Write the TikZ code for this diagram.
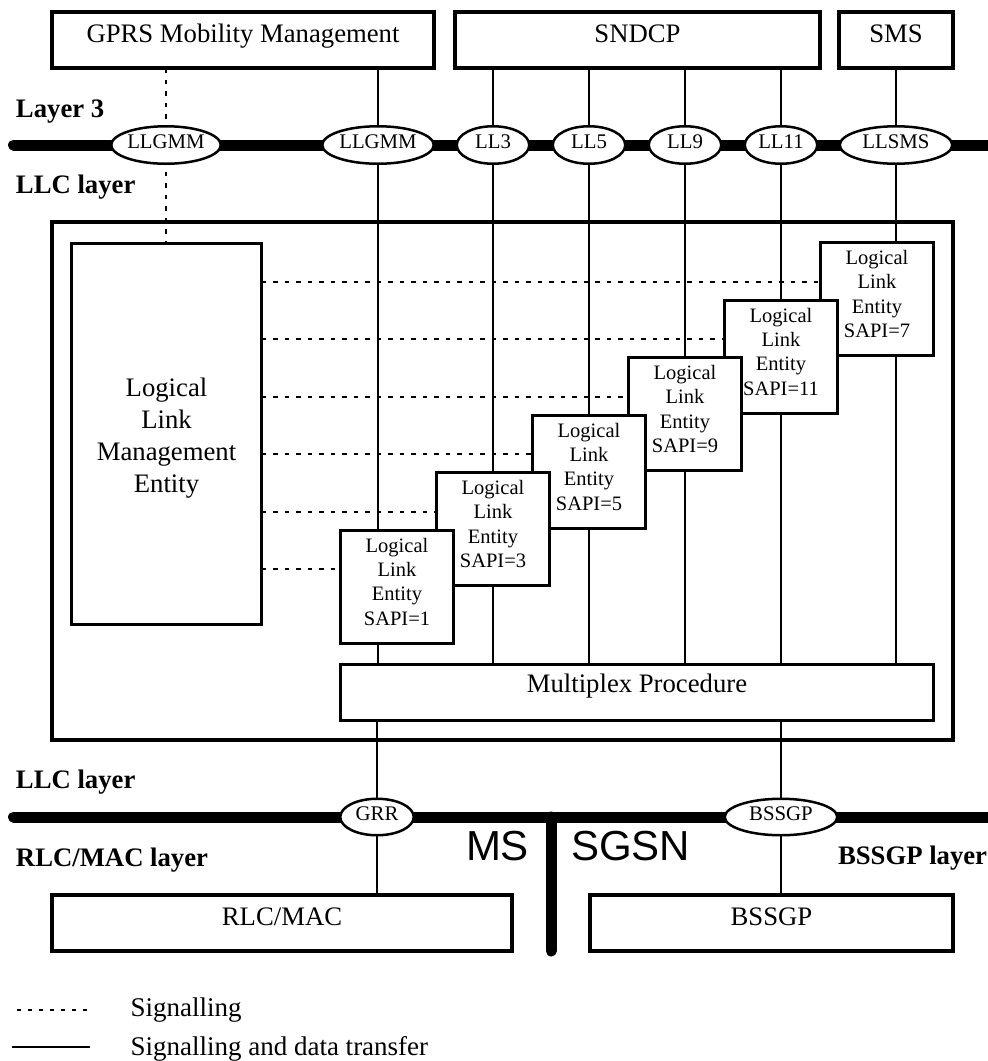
\documentclass[tikz,border=0pt]{standalone}
\usepackage{fontspec}
\setmainfont{Liberation Serif}
\setsansfont{Liberation Sans}
\usetikzlibrary{shapes.geometric}
\pgfdeclarelayer{bg}
\pgfsetlayers{bg,main}
\tikzset{
  every node/.style={inner sep=0pt, outer sep=0pt},
  box/.style={draw, line width=4.5pt, fill=white, minimum height=56pt,
    font=\fontsize{26.7}{32}\selectfont, text height=12pt, text depth=8pt},
  lle/.style={draw, line width=3pt, fill=white, minimum width=113pt, minimum height=113pt,
    align=center, font=\fontsize{20.5}{24.4}\selectfont},
  ell/.style={ellipse, draw, line width=2.5pt, fill=white, minimum height=37.5pt,
    font=\fontsize{20.8}{25}\selectfont, text height=10pt, text depth=3.4pt},
  bus/.style={line width=11pt, line cap=round},
  data/.style={line width=1.6pt},
  sig/.style={line width=2pt, dash pattern=on 4.5pt off 7pt},
  lyr/.style={font=\fontsize{26.7}{32}\selectfont\bfseries, anchor=base west},
  legtxt/.style={font=\fontsize{27}{32}\selectfont, anchor=base west},
  bigsans/.style={font=\sffamily\fontsize{42}{50}\selectfont}
}
\begin{document}
\begin{tikzpicture}[x=1pt,y=-1pt]
\useasboundingbox (0,0) rectangle (988,1061);

% Layer 3 entities
\node[box, minimum width=382pt] (gmm) at (243,40) {GPRS Mobility Management};
\node[box, minimum width=365pt] (sndcp) at (637.5,40) {SNDCP};
\node[box, minimum width=114pt] (sms) at (896,40) {SMS};

\node[lyr] (l3lbl) at (16,117) {Layer 3};
\node[lyr] (llclbl) at (16,193) {LLC layer};

% SAPs on the upper bus
\coordinate (b3w) at (13.5,145);
\coordinate (b3e) at (1000,145);
\node[ell, minimum width=109.5pt] (e1) at (166,145) {LLGMM};
\node[ell, minimum width=111.5pt] (e2) at (378,145) {LLGMM};
\node[ell, minimum width=72.5pt] (e3) at (493,145) {LL3};
\node[ell, minimum width=72.5pt] (e5) at (589,145) {LL5};
\node[ell, minimum width=72.5pt] (e9) at (685,145) {LL9};
\node[ell, minimum width=72.5pt] (e11) at (781,145) {LL11};
\node[ell, minimum width=112.5pt] (esms) at (896,145) {LLSMS};

% LLC container
\node[draw, line width=4.5pt, minimum width=901pt, minimum height=518pt] (llc) at (502.5,481) {};

\node[draw, line width=3pt, fill=white, minimum width=190pt, minimum height=381pt,
  align=center, font=\fontsize{26.7}{32}\selectfont] (llme) at (166.5,434)
  {\rule{0pt}{27pt}Logical\\Link\\Management\\Entity};

\node[lle] (lle7) at (877,299) {Logical\\Link\\Entity\\SAPI=7\rule[-10pt]{0pt}{10pt}};
\node[lle] (lle11) at (781,356.5) {Logical\\Link\\Entity\\SAPI=11\rule[-10pt]{0pt}{10pt}};
\node[lle] (lle9) at (685,414) {Logical\\Link\\Entity\\SAPI=9\rule[-10pt]{0pt}{10pt}};
\node[lle] (lle5) at (589,471.5) {Logical\\Link\\Entity\\SAPI=5\rule[-10pt]{0pt}{10pt}};
\node[lle] (lle3) at (493,529) {Logical\\Link\\Entity\\SAPI=3\rule[-10pt]{0pt}{10pt}};
\node[lle] (lle1) at (397,586.5) {Logical\\Link\\Entity\\SAPI=1\rule[-10pt]{0pt}{10pt}};

\node[draw, line width=2.8pt, fill=white, minimum width=593pt, minimum height=56pt,
  font=\fontsize{26.7}{32}\selectfont, text height=6pt, text depth=6pt] (mux) at (637,692.5) {Multiplex Procedure};

% lower part
\node[lyr] (llclbl2) at (16,788) {LLC layer};
\node[lyr] (rlclbl) at (16,866) {RLC/MAC layer};
\node[lyr] (bssgplbl) at (838,864.5) {BSSGP layer};

\coordinate (b2w) at (13.5,817);
\coordinate (b2e) at (1000,817);
\coordinate (divt) at (551,817);
\coordinate (divb) at (551,951);
\node[ell, minimum width=73.5pt, minimum height=36.5pt] (grr) at (377,817) {GRR};
\node[ell, minimum width=112.5pt, minimum height=36.5pt] (ebssgp) at (781,817) {BSSGP};

\node[box, minimum width=460pt] (rlc) at (282,923) {RLC/MAC};
\node[box, minimum width=363pt] (bssgp) at (771.5,923) {BSSGP};

\node[bigsans, anchor=base east] (ms) at (529,860) {MS};
\node[bigsans, anchor=base west] (sgsn) at (571,860) {SGSN};

% legend
\coordinate (s1a) at (17,1010);
\coordinate (s1b) at (90,1010);
\coordinate (s2a) at (12,1047);
\coordinate (s2b) at (90,1047);
\node[legtxt] (leg1) at (130.5,1016.7) {Signalling};
\node[legtxt] (leg2) at (130.5,1055) {Signalling and data transfer};
\draw[line width=1.5pt, dash pattern=on 4pt off 7pt] (s1a) -- (s1b);
\draw[line width=1.8pt] (s2a) -- (s2b);

% dashed signalling lines
\coordinate (d7) at ([yshift=-39pt]lle7.north west);
\coordinate (d11) at ([yshift=-39pt]lle11.north west);
\coordinate (d9) at ([yshift=-39pt]lle9.north west);
\coordinate (d5) at ([yshift=-39pt]lle5.north west);
\coordinate (d3) at ([yshift=-39pt]lle3.north west);
\coordinate (d1) at ([yshift=-39pt]lle1.north west);

\begin{pgfonlayer}{bg}
  \draw[bus] (b3w) -- (b3e);
  \draw[bus] (b2w) -- (b2e);
  \draw[bus] (divt) -- (divb);
  \draw[sig] (gmm.south -| e1) -- (llme.north -| e1);
  \draw[data] (gmm.south -| e2) -- (mux.north -| e2);
  \draw[data] (sndcp.south -| e3) -- (mux.north -| e3);
  \draw[data] (sndcp.south -| e5) -- (mux.north -| e5);
  \draw[data] (sndcp.south -| e9) -- (mux.north -| e9);
  \draw[data] (sndcp.south -| e11) -- (mux.north -| e11);
  \draw[data] (sms.south -| esms) -- (mux.north -| esms);
  \draw[data] (mux.south -| grr) -- (rlc.north -| grr);
  \draw[data] (mux.south -| ebssgp) -- (bssgp.north -| ebssgp);
  \foreach \d in {d7,d11,d9,d5,d3,d1}
    \draw[sig] (llme.east |- \d) -- (\d);
\end{pgfonlayer}
\end{tikzpicture}
\end{document}
